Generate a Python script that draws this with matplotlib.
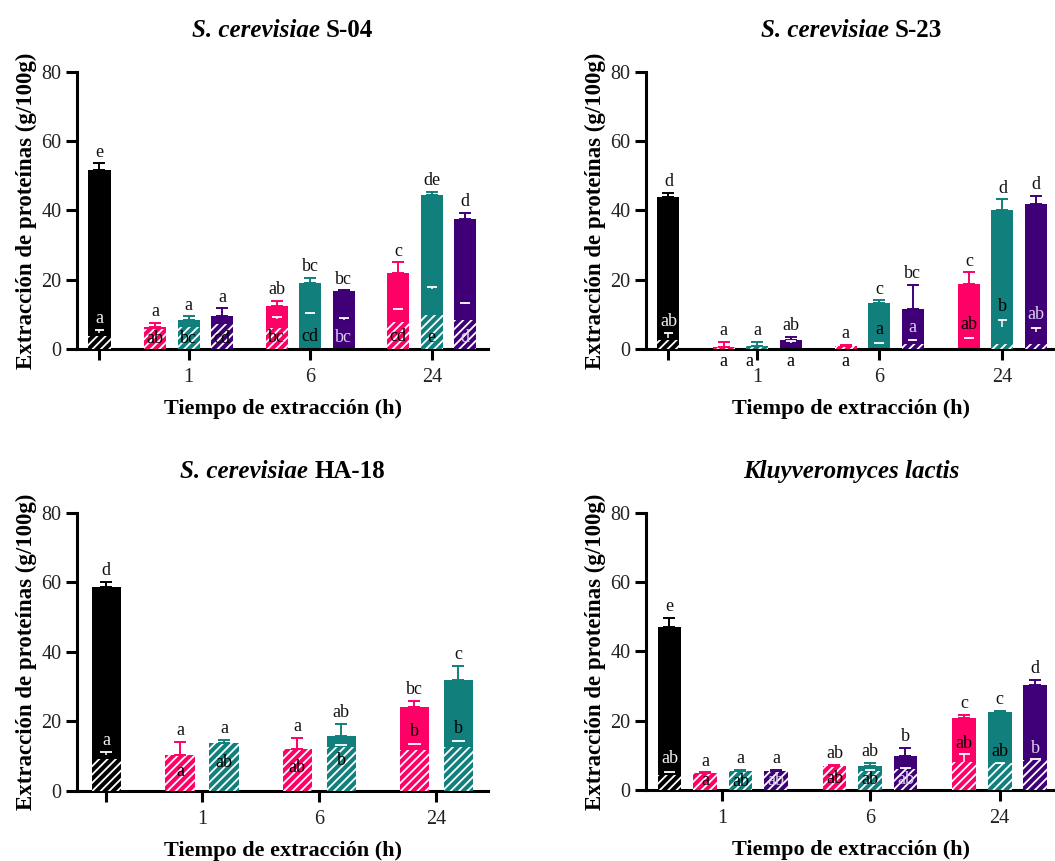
import matplotlib
matplotlib.use('Agg')
import matplotlib.pyplot as plt

plt.rcParams['font.family'] = 'serif'
plt.rcParams['font.serif'] = ['Liberation Serif', 'DejaVu Serif']
plt.rcParams['hatch.linewidth'] = 1.3

PINK = '#FF0066'
TEAL = '#11807C'
PURPLE = '#3F0077'

times = ['1', '6', '24']

# order: control, then 1 h, 6 h, 24 h (one value per strain colour)
# S. cerevisiae S-04
totA = [51.6, 6.4, 8.5, 9.4, 12.4, 19.1, 16.7, 21.9, 44.6, 37.5]
errA = [2.0, 1.1, 0.9, 2.3, 1.4, 1.4, 0.2, 3.1, 0.8, 1.7]
hatchA = [3.7, 5.8, 6.4, 7.2, 6.0, 0, 0, 7.9, 9.8, 8.4]
markA = [4.6, None, None, None, 8.7, 10.0, 8.5, 11.2, 17.2, 12.9]
markerrA = [1.0, 0, 0, 0, 0.6, 0.5, 0.3, 0.3, 0.8, 0.3]
topA = ['e', 'a', 'a', 'a', 'ab', 'bc', 'bc', 'c', 'de', 'd']
inA = ['a', 'ab', 'bc', 'cd', 'bc', 'cd', 'bc', 'cd', 'e', 'd']

# S. cerevisiae S-23
totB = [43.8, 0.6, 0.8, 2.7, 0.8, 13.3, 11.6, 18.8, 40.2, 41.9]
errB = [1.3, 1.5, 1.2, 0.7, 0.4, 0.7, 6.9, 3.3, 3.0, 2.3]
hatchB = [2.7, 0.6, 0.8, 0, 0.8, 0, 1.5, 0, 1.5, 1.5]
markB = [3.2, None, None, 1.8, None, 1.6, 2.3, 3.1, 6.2, 5.0]
markerrB = [1.4, 0, 0, 0.4, 0, 0.2, 0.3, 0.1, 2.2, 1.0]
topB = ['d', 'a', 'a', 'ab', 'a', 'c', 'bc', 'c', 'd', 'd']
inB = ['ab', 'a', 'a', 'a', 'a', 'a', 'a', 'ab', 'b', 'ab']

# S. cerevisiae HA-18 (two strains)
totC = [58.7, 10.3, 13.8, 12.2, 15.7, 24.2, 31.8]
errC = [1.4, 3.8, 1.0, 3.1, 3.5, 1.7, 4.3]
hatchC = [9.3, 10.3, 13.8, 12.2, 12.7, 11.7, 12.7]
markC = [10.5, None, None, None, 13.1, 13.4, 14.1]
markerrC = [0.7, 0, 0, 0, 0.2, 0.2, 0.3]
topC = ['d', 'a', 'a', 'a', 'ab', 'bc', 'c']
inC = ['a', 'a', 'ab', 'ab', 'b', 'b', 'b']

# Kluyveromyces lactis
totD = [47.0, 4.8, 5.6, 5.6, 6.9, 6.9, 9.8, 20.7, 22.6, 30.3]
errD = [2.6, 0.3, 0.1, 0.3, 0.3, 1.0, 2.4, 1.0, 0.3, 1.5]
hatchD = [4.3, 4.8, 5.6, 5.6, 6.9, 5.6, 6.0, 8.2, 7.7, 8.7]
markD = [5.0, None, None, None, None, 5.6, 6.1, 8.2, 7.6, 8.8]
markerrD = [0.3, 0, 0, 0, 0, 0.2, 0.3, 2.2, 0.1, 0.1]
topD = ['e', 'a', 'a', 'a', 'ab', 'ab', 'b', 'c', 'c', 'd']
inD = ['ab', 'a', 'ab', 'ab', 'ab', 'ab', 'ab', 'ab', 'ab', 'b']

# layout: where inner letters sit (data y, centre) and small x nudges
in_yA = [8.7, 2.9, 2.9, 2.9, 3.4, 3.6, 3.4, 3.7, 3.4, 3.2]
in_yB = [8.0, -3.6, -3.6, -3.6, -3.6, 5.6, 6.1, 7.2, 12.4, 9.9]
in_yC = [14.6, 5.5, 8.3, 6.7, 8.8, 17.0, 18.1]
in_yD = [9.1, 2.7, 2.4, 2.6, 3.4, 3.0, 3.0, 13.5, 11.1, 12.0]
in_dxB = [0, 0, -0.22, 0, 0, 0, 0, 0, 0, 0]

panels = [
    dict(title=('S. cerevisiae ', 'S-04'), rect=[0.0730, 0.5947, 0.3896, 0.3217],
         tot=totA, err=errA, hatch=hatchA, mark=markA, markerr=markerrA,
         top=topA, inner=inA, in_y=in_yA, colors=[PINK, TEAL, PURPLE],
         centers=[2.66, 6.29, 9.92], offs=[-1, 0, 1], width=0.66,
         ticks=[0, 2.66, 6.29, 9.92], ticklabels=[''] + times, xlim=(-0.67, 11.6)),
    dict(title=('S. cerevisiae ', 'S-23'), rect=[0.6123, 0.5947, 0.3896, 0.3217],
         tot=totB, err=errB, hatch=hatchB, mark=markB, markerr=markerrB,
         top=topB, inner=inB, in_y=in_yB, in_dx=in_dxB, colors=[PINK, TEAL, PURPLE],
         centers=[2.65, 6.29, 9.97], offs=[-1, 0, 1], width=0.66,
         ticks=[0, 2.65, 6.29, 9.97], ticklabels=[''] + times, xlim=(-0.67, 11.6)),
    dict(title=('S. cerevisiae ', 'HA-18'), rect=[0.0730, 0.0813, 0.3896, 0.3229],
         tot=totC, err=errC, hatch=hatchC, mark=markC, markerr=markerrC,
         top=topC, inner=inC, in_y=in_yC, colors=[PINK, TEAL],
         centers=[2.18, 4.84, 7.5], offs=[-0.5, 0.5], width=0.66,
         ticks=[0, 2.18, 4.84, 7.5], ticklabels=[''] + times, xlim=(-0.66, 8.68)),
    dict(title=('Kluyveromyces lactis', ''), rect=[0.6123, 0.0825, 0.3896, 0.3217],
         tot=totD, err=errD, hatch=hatchD, mark=markD, markerr=markerrD,
         top=topD, inner=inD, in_y=in_yD, colors=[PINK, TEAL, PURPLE],
         centers=[2.0, 5.65, 9.31], offs=[-1, 0, 1], width=0.67,
         ticks=[1.48, 5.65, 9.3], ticklabels=times, xlim=(-0.66, 10.92)),
]

fig = plt.figure(figsize=(10.55, 8.61), dpi=100)
renderer = fig.canvas.get_renderer()

for n, p in enumerate(panels):
    ax = fig.add_axes(p['rect'])
    xs = [0]
    cols = ['black']
    for c in p['centers']:
        for k, o in enumerate(p['offs']):
            xs.append(c + o)
            cols.append(p['colors'][k])
    dx = p.get('in_dx', [0] * len(xs))
    capw = p['width'] * 0.22

    for i, x in enumerate(xs):
        col = cols[i]
        ax.bar(x, p['tot'][i], width=p['width'], color=col, zorder=2)
        if p['hatch'][i] > 0:
            ax.bar(x, p['hatch'][i], width=p['width'], color=col, edgecolor='white',
                   linewidth=0, hatch='////', zorder=3)
        ax.errorbar(x, p['tot'][i], yerr=[[0], [p['err'][i]]], fmt='none', ecolor=col,
                    elinewidth=1.4, capsize=4.5, capthick=1.4, zorder=4)
        if p['mark'][i] is not None:
            m, me = p['mark'][i], p['markerr'][i]
            ax.vlines(x, m, m + me, colors='white', linewidth=1.1, zorder=5)
            ax.hlines(m + me, x - capw, x + capw, colors='white', linewidth=1.3, zorder=5)
        ax.text(x, p['tot'][i] + p['err'][i] + 0.8, p['top'][i], ha='center', va='bottom',
                fontsize=13, color='#111111', zorder=6)
        if col == 'black':
            tc = '#F2F2F2'
        elif col == PURPLE and p['in_y'][i] > 0 and not (n == 0 and i == 3):
            tc = '#DCD0EE'
        else:
            tc = 'black'
        ax.text(x + dx[i], p['in_y'][i], p['inner'][i], ha='center', va='center',
                fontsize=13, color=tc, zorder=6, clip_on=False)

    ax.set_xlim(*p['xlim'])
    ax.set_ylim(0, 80)
    ax.set_yticks([0, 20, 40, 60, 80])
    ax.set_xticks(p['ticks'], p['ticklabels'])
    for s in ['top', 'right']:
        ax.spines[s].set_visible(False)
    for s in ['left', 'bottom']:
        ax.spines[s].set_linewidth(2.2)
    ax.tick_params(axis='both', direction='out', length=8, width=2.2, labelsize=14.5,
                   colors='black', labelcolor='#222222')
    ax.tick_params(axis='x', pad=6)
    ax.tick_params(axis='y', pad=3)
    ax.set_xlabel('Tiempo de extracción (h)', fontsize=16, fontweight='bold', labelpad=8)
    ax.set_ylabel('Extracción de proteínas (g/100g)', fontsize=16.5, fontweight='bold',
                  labelpad=3)

    # title: italic species part + upright strain part, centred over the axes
    r = p['rect']
    xc = r[0] + r[2] / 2
    yb = r[1] + r[3] + 0.041
    t1 = fig.text(0, yb, p['title'][0], fontsize=18, fontweight='bold', fontstyle='italic',
                  va='baseline')
    t2 = fig.text(0, yb, p['title'][1], fontsize=18, fontweight='bold', va='baseline')
    w1 = t1.get_window_extent(renderer).width / fig.bbox.width
    w2 = t2.get_window_extent(renderer).width / fig.bbox.width if p['title'][1] else 0
    x0 = xc - (w1 + w2) / 2
    t1.set_x(x0)
    t2.set_x(x0 + w1)

fig.savefig('out.png', dpi=100)
